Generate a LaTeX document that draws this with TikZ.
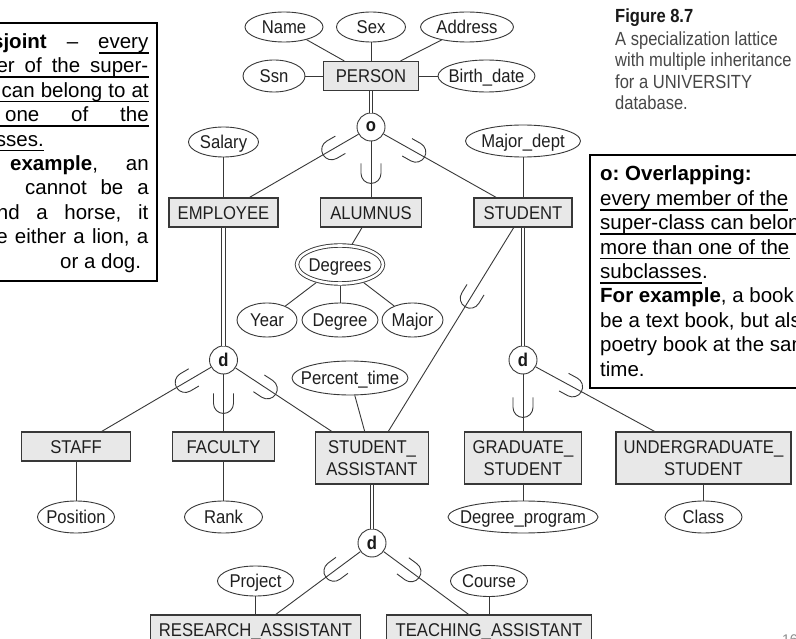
\documentclass[tikz,border=0pt]{standalone}
\usepackage{fontspec}
\setmainfont{Liberation Sans}
\newfontfamily\dfont[FakeStretch=0.9]{Liberation Sans}
\newfontfamily\cfont[FakeStretch=0.87]{Liberation Sans}
\usetikzlibrary{shapes.geometric,decorations.markings}
\newcommand\zw[1]{\makebox[0pt][c]{#1}}
\newcommand\dsize{\dfont\fontsize{18.5}{21.5}\selectfont}
\colorlet{ink}{black!78}
\colorlet{boxfill}{black!9}
\frenchspacing

\begin{document}
\begin{tikzpicture}[x=1pt,y=-1pt,
  ent/.style={draw=ink, fill=boxfill, line width=1.1pt, inner sep=0pt,
    minimum height=29, text height=13.3pt, text depth=0pt, font=\dsize, text=black!88},
  ent2/.style={draw=ink, fill=boxfill, line width=1.1pt, inner sep=0pt,
    minimum height=52, align=center, font=\dsize, text=black!88},
  attr/.style={ellipse, draw=ink, fill=white, line width=0.9pt, inner sep=0pt,
    text height=13.3pt, text depth=0pt, font=\dsize, text=black!88},
  spec/.style={circle, draw=ink, fill=white, line width=0.9pt, inner sep=0pt,
    minimum size=28, font=\dsize\bfseries, text=black!90},
  conn/.style={draw=ink, line width=0.9pt},
  dbl/.style={draw=ink, line width=0.9pt, double=white, double distance=2.6pt},
  isa/.style={postaction={decorate}, decoration={markings, mark=at position #1 with
    {\draw[ink, line width=0.9pt] (-10,-10) -- (0,-10)
       arc[start angle=-90, end angle=90, radius=10] -- (-10,10);}}},
  note/.style={inner sep=0pt, font=\fontsize{20.5}{24.4}\selectfont, text=black},
  capt/.style={inner sep=0pt, font=\cfont\fontsize{19}{21.5}\selectfont, text=black!72},
  uline/.style={draw=black, line width=1.7pt}
]
\useasboundingbox (0,0) rectangle (796,639);
\fill[white] (0,0) rectangle (796,639);
\clip (0,0) rectangle (796,639);

% ---------- PERSON and its attributes ----------
\node[attr, minimum width=78, minimum height=30] (name) at (284,27) {\zw{Name}};
\node[attr, minimum width=69, minimum height=30] (sex) at (371,27) {\zw{Sex}};
\node[attr, minimum width=93, minimum height=30] (address) at (467,27) {\zw{Address}};
\node[attr, minimum width=62, minimum height=32] (ssn) at (274,76) {\zw{Ssn}};
\node[attr, minimum width=97, minimum height=32] (birth) at (486.5,76) {\zw{Birth\_date}};
\node[ent, minimum width=95] (person) at (371,76) {PERSON};

\node[spec] (ovl) at (371,127) {o};

% ---------- first level subclasses ----------
\node[attr, minimum width=70, minimum height=30] (salary) at (223.5,142) {\zw{Salary}};
\node[attr, minimum width=115, minimum height=32] (mdept) at (523,141) {\zw{Major\_dept}};
\node[ent, minimum width=109] (employee) at (223.5,212.5) {EMPLOYEE};
\node[ent, minimum width=101] (alumnus) at (371,212.5) {ALUMNUS};
\node[ent, minimum width=98] (student) at (523,212.5) {STUDENT};

\node[attr, double=white, double distance=2.6pt, minimum width=86, minimum height=38,
      outer sep=2.2pt] (degrees) at (340,264.5) {\zw{Degrees}};
\node[attr, minimum width=60, minimum height=34] (year) at (267,320) {\zw{Year}};
\node[attr, minimum width=76, minimum height=34] (degree) at (340,320) {\zw{Degree}};
\node[attr, minimum width=61, minimum height=34] (major) at (412.5,320) {\zw{Major}};

\node[spec] (d1) at (223.5,360) {d};
\node[spec] (d2) at (523,360) {d};
\node[attr, minimum width=116, minimum height=34] (ptime) at (350,378) {\zw{Percent\_time}};

% ---------- second level subclasses ----------
\node[ent, minimum width=109] (staff) at (76,446.5) {STAFF};
\node[ent, minimum width=102] (faculty) at (223.5,446.5) {FACULTY};
\node[ent2, minimum width=113] (sa) at (372,458) {STUDENT\_\\ASSISTANT};
\node[ent2, minimum width=117] (gs) at (523,458) {GRADUATE\_\\STUDENT};
\node[ent2, minimum width=175] (ug) at (703.5,458) {UNDERGRADUATE\_\\STUDENT};

\node[attr, minimum width=77, minimum height=32] (position) at (76,517) {\zw{Position}};
\node[attr, minimum width=78, minimum height=32] (rank) at (223.5,517) {\zw{Rank}};
\node[attr, minimum width=150, minimum height=32] (degprog) at (523,517) {\zw{Degree\_program}};
\node[attr, minimum width=77, minimum height=32] (class) at (703.5,517) {\zw{Class}};

% ---------- third level ----------
\node[spec] (d3) at (372,543) {d};
\node[attr, minimum width=76, minimum height=30] (project) at (255.5,581) {\zw{Project}};
\node[attr, minimum width=77, minimum height=31] (course) at (489,581) {\zw{Course}};
\node[ent, minimum width=210] (ra) at (255.5,629.5) {RESEARCH\_ASSISTANT};
\node[ent, minimum width=205] (ta) at (489,629.5) {TEACHING\_ASSISTANT};

% ---------- connectors ----------
\draw[conn] (name) -- (person);
\draw[conn] (sex) -- (person);
\draw[conn] (address) -- (person);
\draw[conn] (ssn) -- (person);
\draw[conn] (birth) -- (person);
\draw[dbl] (person) -- (ovl);
\draw[conn, isa=31pt] (ovl) -- (employee);
\draw[conn, isa=32pt] (ovl) -- (alumnus);
\draw[conn, isa=37pt] (ovl) -- (student);
\draw[conn] (salary) -- (employee);
\draw[conn] (mdept) -- (student);
\draw[conn] (alumnus) -- (degrees);
\draw[conn] (degrees) -- (year);
\draw[conn] (degrees) -- (degree);
\draw[conn] (degrees) -- (major);
\draw[dbl] (employee) -- (d1);
\draw[dbl] (student) -- (d2);
\draw[conn, isa=30pt] (d1) -- (staff);
\draw[conn, isa=29pt] (d1) -- (faculty);
\draw[conn, isa=38pt] (d1) -- (sa);
\draw[conn] (ptime) -- (sa);
\draw[conn, isa=83pt] (student) -- (sa);
\draw[conn, isa=33pt] (d2) -- (gs);
\draw[conn, isa=42pt] (d2) -- (ug);
\draw[conn] (staff) -- (position);
\draw[conn] (faculty) -- (rank);
\draw[conn] (gs) -- (degprog);
\draw[conn] (ug) -- (class);
\draw[dbl] (sa) -- (d3);
\draw[conn, isa=33pt] (d3) -- (ra);
\draw[conn, isa=34pt] (d3) -- (ta);
\draw[conn] (project) -- (ra);
\draw[conn] (course) -- (ta);

% ---------- disjoint note (left), justified lines ----------
\draw[line width=1.1pt] (-5,23) rectangle (157,281);
\node[note, anchor=base east] (l1) at (148.5,48.5)
  {\hbox to 101.5pt{\llap{\textbf{Disjoint}}\hfill–\hfill every}};
\node[note, anchor=base east] (l2) at (148.5,72.9)
  {\hbox to 133.5pt{\llap{member}\hfill of\hfill the\hfill super-}};
\node[note, anchor=base west] (l3) at (1.5,97.3)
  {\hbox to 147pt{can\hfill belong\hfill to\hfill at}};
\node[note, anchor=base west] (l4) at (5,121.7)
  {\hbox to 143.5pt{one\hfill of\hfill the}};
\node[note, anchor=base east] (l5) at (44,146.1) {subclasses.};
\node[note, anchor=base west] (l6) at (10,170.5)
  {\hbox to 138.5pt{\textbf{example},\hfill an}};
\node[note, anchor=base west] (l7) at (25,194.9)
  {\hbox to 123.5pt{cannot\hfill be\hfill a}};
\node[note, anchor=base east] (l8) at (148.5,219.3)
  {\hbox to 128.5pt{\llap{and}\hfill a\hfill horse,\hfill it}};
\node[note, anchor=base east] (l9) at (148.5,243.7)
  {\hbox to 140.5pt{\llap{be}\hfill either\hfill a\hfill lion,\hfill a}};
\node[note, anchor=base west] (l10) at (60,268.1) {or a dog.};
\draw[uline] (99,52.8) -- (148.5,52.8);
\draw[uline] (-5,77.2) -- (148.5,77.2);
\draw[uline] (-5,101.6) -- (148.5,101.6);
\draw[uline] (-5,126) -- (148.5,126);
\draw[uline] (-5,150.4) -- (44,150.4);

% ---------- overlapping note (right) ----------
\draw[line width=1.1pt] (590,155) rectangle (806,388);
\node[note, anchor=base west] (r1) at (600,181) {\textbf{o: Overlapping:}};
\node[note, anchor=base west] (r2) at (600,205.4) {every member of the};
\node[note, anchor=base west] (r3) at (600,229.8) {super-class can belong};
\node[note, anchor=base west] (r4) at (600,254.2) {more than one of the};
\node[note, anchor=base west] (r5) at (600,278.6) {subclasses};
\node[note, anchor=base west] (r5p) at (r5.base east) {.};
\node[note, anchor=base west] (r6) at (600,303) {\textbf{For example}, a book};
\node[note, anchor=base west] (r7) at (600,327.4) {be a text book, but also};
\node[note, anchor=base west] (r8) at (600,351.8) {poetry book at the same};
\node[note, anchor=base west] (r9) at (600,376.2) {time.};
\foreach \r in {r2,r3,r4,r5}
  \draw[uline] ([yshift=-4.3pt]\r.base west) -- ([yshift=-4.3pt]\r.base east);

% ---------- caption ----------
\node[capt, anchor=base west, text=black!90] (c1) at (615,23) {\textbf{Figure 8.7}};
\node[capt, anchor=base west] (c2) at (615,45.5) {A specialization lattice};
\node[capt, anchor=base west] (c3) at (615,67) {with multiple inheritance};
\node[capt, anchor=base west] (c4) at (615,88.5) {for a UNIVERSITY};
\node[capt, anchor=base west] (c5) at (615,110) {database.};

% page number
\node[anchor=north west, inner sep=0pt, font=\fontsize{14}{14}\selectfont, text=black!45]
  (pg) at (782,635) {16};
\end{tikzpicture}
\end{document}
